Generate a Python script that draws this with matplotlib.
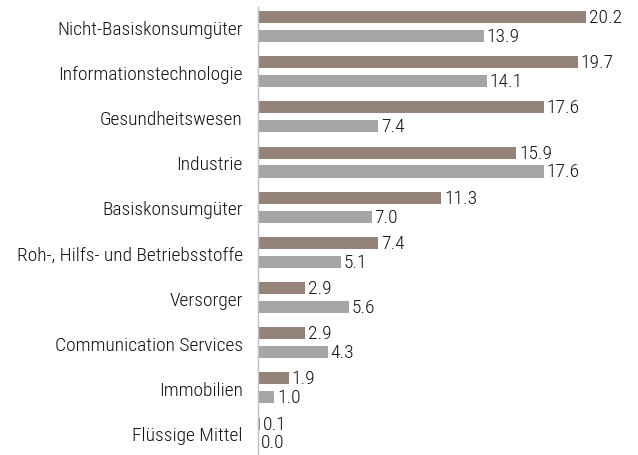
import matplotlib
matplotlib.use('Agg')
import matplotlib.pyplot as plt
import numpy as np

categories = ['Nicht-Basiskonsumgüter', 'Informationstechnologie', 'Gesundheitswesen',
              'Industrie', 'Basiskonsumgüter', 'Roh-, Hilfs- und Betriebsstoffe',
              'Versorger', 'Communication Services', 'Immobilien', 'Flüssige Mittel']
series_a = [20.2, 19.7, 17.6, 15.9, 11.3, 7.4, 2.9, 2.9, 1.9, 0.1]
series_b = [13.9, 14.1, 7.4, 17.6, 7.0, 5.1, 5.6, 4.3, 1.0, 0.0]

plt.rcParams['font.family'] = ['Roboto Condensed', 'DejaVu Sans']
plt.rcParams['font.weight'] = 'light'

fig = plt.figure(figsize=(6.38, 4.56), dpi=100)
ax = fig.add_axes([258 / 638, 0.0, 1 - 258 / 638 - 0.036, 1 - 8 / 456])

y = np.arange(len(categories))
h = 0.266
off = 0.21
ax.barh(y - off, series_a, height=h, color='#938379')
ax.barh(y + off, series_b, height=h, color='#a5a5a5')

fs = 14
for yi, a, b in zip(y, series_a, series_b):
    ax.text(a + 0.18, yi - off, f'{a:.1f}', va='center', ha='left', fontsize=fs, color='#111111')
    ax.text(b + 0.18, yi + off, f'{b:.1f}', va='center', ha='left', fontsize=fs, color='#111111')

ax.set_xlim(0, 22)
ax.set_ylim(9.487, -0.432)
ax.set_yticks(y)
ax.set_yticklabels(categories, fontsize=fs, color='#111111')
ax.tick_params(axis='y', length=0, pad=11)
ax.set_xticks([])
for s in ['top', 'right', 'bottom']:
    ax.spines[s].set_visible(False)
ax.spines['left'].set_color('#bfbfbf')
ax.spines['left'].set_linewidth(1.0)

fig.savefig('out.png', dpi=100)
